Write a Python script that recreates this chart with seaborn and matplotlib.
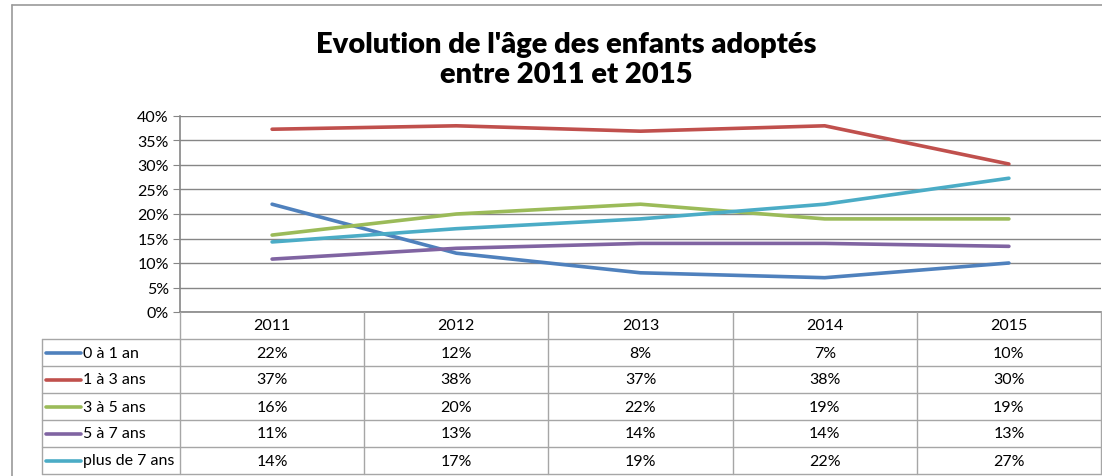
import pandas as pd
import seaborn as sns
import matplotlib.pyplot as plt
import matplotlib.ticker as mticker
from matplotlib.lines import Line2D

# data (percent)
years = [2011, 2012, 2013, 2014, 2015]
groups = ['0 à 1 an', '1 à 3 ans', '3 à 5 ans', '5 à 7 ans', 'plus de 7 ans']
age_0_1 = [22.0, 12.0, 8.0, 7.0, 10.0]
age_1_3 = [37.3, 38.0, 36.9, 38.0, 30.2]
age_3_5 = [15.7, 20.0, 22.0, 19.0, 19.0]
age_5_7 = [10.8, 13.0, 14.0, 14.0, 13.4]
age_7_plus = [14.3, 17.0, 19.0, 22.0, 27.3]
colors = ['#4F81BD', '#C0504D', '#9BBB59', '#8064A2', '#4BACC6']

series = [age_0_1, age_1_3, age_3_5, age_5_7, age_7_plus]
rows = []
for g, vals in zip(groups, series):
    for y, v in zip(years, vals):
        rows.append({'year': y, 'group': g, 'value': v})
df = pd.DataFrame(rows)

sns.set_style('white')
plt.rcParams['font.family'] = ['Lato', 'DejaVu Sans']
plt.rcParams['text.color'] = 'black'
plt.rcParams['ytick.labelcolor'] = 'black'

W, H = 1102, 477
fig = plt.figure(figsize=(W / 100, H / 100), dpi=100)

# outer chart frame (left and top edges visible)
fig.add_artist(Line2D([12 / W, 12 / W], [0, 1 - 6 / H], color='#9A9A9A', lw=1.2))
fig.add_artist(Line2D([12 / W, 1], [1 - 6 / H, 1 - 6 / H], color='#9A9A9A', lw=1.2))

fig.text(566 / W, 1 - 60 / H, "Evolution de l'âge des enfants adoptés\nentre 2011 et 2015",
         ha='center', va='center', fontsize=21, fontweight='heavy', linespacing=1.15,
         color='black')

# line chart
ax = fig.add_axes([180 / W, 1 - 313 / H, (1101 - 180) / W, (313 - 117) / H])
sns.lineplot(data=df, x='year', y='value', hue='group', hue_order=groups,
             palette=colors, lw=2.6, legend=False, ax=ax)
ax.set_xlim(2010.5, 2015.5)
ax.set_ylim(0, 40)
ax.set_yticks(range(0, 41, 5))
ax.yaxis.set_major_formatter(mticker.FuncFormatter(lambda v, p: f'{v:.0f}%'))
ax.set_xticks([])
ax.set_xlabel('')
ax.set_ylabel('')
ax.grid(axis='y', color='#868686', lw=1)
for s in ['top', 'right']:
    ax.spines[s].set_visible(False)
for s in ['left', 'bottom']:
    ax.spines[s].set_color('#868686')
    ax.spines[s].set_linewidth(1.2)
ax.tick_params(axis='y', length=5, color='#868686', labelsize=11.5, pad=3, left=True,
               labelcolor='black')

# data table under the chart
tab = fig.add_axes([180 / W, 1 - 475 / H, (1101 - 180) / W, (475 - 313) / H])
tab.set_xlim(2010.5, 2015.5)
tab.set_ylim(len(groups) + 1, 0)
tab.axis('off')
left = 2009.75
lc = '#A6A6A6'
for k in range(len(years) + 1):
    tab.plot([2010.5 + k, 2010.5 + k], [0, len(groups) + 1], color=lc, lw=1, clip_on=False)
tab.plot([left, left], [1, len(groups) + 1], color=lc, lw=1, clip_on=False)
for r in range(1, len(groups) + 2):
    tab.plot([left, 2015.5], [r, r], color=lc, lw=1, clip_on=False)

for y in years:
    tab.text(y, 0.5, str(y), ha='center', va='center', fontsize=11.5)
for i, (g, vals, c) in enumerate(zip(groups, series, colors)):
    r = i + 1.5
    tab.plot([2009.775, 2009.965], [r, r], color=c, lw=2.6, clip_on=False,
             solid_capstyle='round')
    tab.text(2009.975, r, g, ha='left', va='center', fontsize=11.5)
    for y, v in zip(years, vals):
        tab.text(y, r, f'{round(v):.0f}%', ha='center', va='center', fontsize=11.5)

fig.savefig('out.png', dpi=100)
